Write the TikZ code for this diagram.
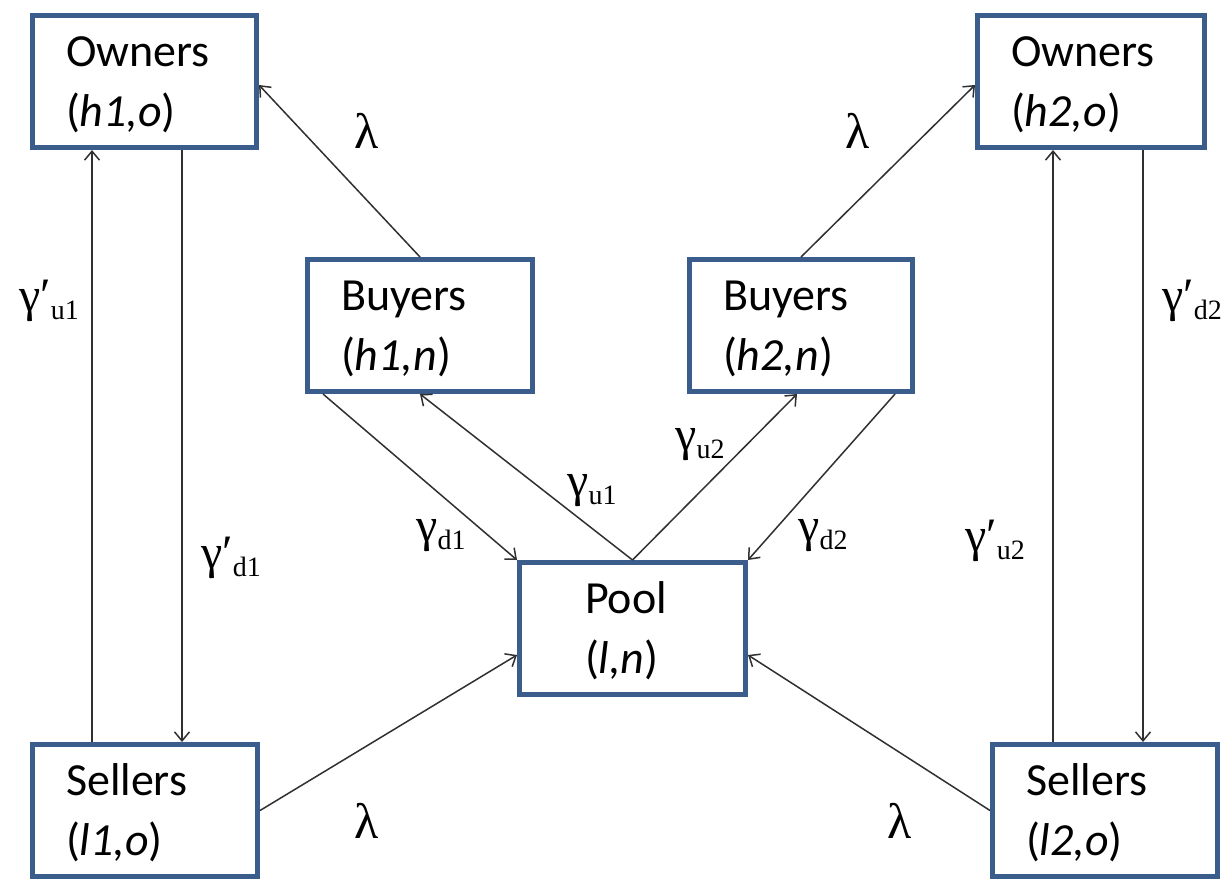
\documentclass[tikz,border=0pt]{standalone}
\usepackage{fontspec}
\setmainfont{Carlito}
\newfontfamily\greekfont{Liberation Serif}
\usetikzlibrary{arrows.meta,calc}

\definecolor{boxblue}{HTML}{3B5D8C}
\definecolor{flow}{HTML}{303030}

% rate symbol with a lowered subscript
\newcommand{\ratesym}[2]{{\greekfont\fontsize{48}{48}\selectfont #1\raisebox{-8pt}{\fontsize{28}{28}\selectfont #2}}}
\newcommand{\lam}{{\greekfont\fontsize{50}{50}\selectfont λ}}

\begin{document}
\begin{tikzpicture}[x=1pt,y=-1pt,
  statebox/.style={draw=boxblue, line width=5pt, fill=white, anchor=north west,
    inner xsep=33.5pt, inner ysep=0pt, text height=50.5pt, text depth=81.5pt,
    align=left, font=\fontsize{46}{60}\selectfont},
  flowline/.style={draw=flow, line width=1.5pt,
    -{Straight Barb[length=9pt,width=15pt,line width=1.5pt]}},
  ratelabel/.style={inner sep=0pt, text=black}]

\fill[white] (0,0) rectangle (1228,879);
\useasboundingbox (0,0) rectangle (1228,879);

% states
\node[statebox, text width=157pt] (oh1) at (30,13) {Owners\\(\textit{h1,o})};
\node[statebox, text width=160pt] (oh2) at (975,13) {Owners\\(\textit{h2,o})};
\node[statebox, text width=158pt] (bh1) at (305,257) {Buyers\\(\textit{h1,n})};
\node[statebox, text width=156pt] (bh2) at (687,257) {Buyers\\(\textit{h2,n})};
\node[statebox, inner xsep=65.5pt, text width=95pt] (pool) at (517,560) {Pool\\(\textit{l,n})};
\node[statebox, text width=158pt] (sl1) at (30,742) {Sellers\\(\textit{l1,o})};
\node[statebox, text width=158pt] (sl2) at (990,742) {Sellers\\(\textit{l2,o})};

% buyers become owners
\draw[flowline] (bh1.north) -- ([yshift=-3.5pt]oh1.east);
\draw[flowline] (bh2.north) -- ([yshift=-3.5pt]oh2.west);

% owners <-> sellers, left
\draw[flowline] ([xshift=62pt]sl1.north west) -- ([xshift=62pt]oh1.south west);
\draw[flowline] ([xshift=152pt]oh1.south west) -- ([xshift=152pt]sl1.north west);

% owners <-> sellers, right
\coordinate (ru) at ([xshift=78pt]oh2.south west);
\coordinate (rd) at ([xshift=168pt]oh2.south west);
\draw[flowline] (sl2.north -| ru) -- (ru);
\draw[flowline] (rd) -- (sl2.north -| rd);

% buyers <-> pool
\draw[flowline] ([xshift=18pt]bh1.south west) -- (pool.north west);
\draw[flowline] (pool.north) -- (bh1.south);
\draw[flowline] (pool.north) -- ([xshift=-4pt]bh2.south);
\draw[flowline] ([xshift=-20pt]bh2.south east) -- (pool.north east);

% sellers into pool
\draw[flowline] (sl1.east) -- ([yshift=-26.5pt]pool.west);
\draw[flowline] (sl2.west) -- ([yshift=-26.5pt]pool.east);

% rate labels
\node[ratelabel] (lamtl) at (367,131) {\lam};
\node[ratelabel] (lamtr) at (858,131) {\lam};
\node[ratelabel] (lambl) at (367,821) {\lam};
\node[ratelabel] (lambr) at (900,821) {\lam};

\node[ratelabel] (gpu1) at (49,301) {\ratesym{γ′}{u1}};
\node[ratelabel] (gpd1) at (231,558) {\ratesym{γ′}{d1}};
\node[ratelabel] (gpd2) at (1192,301) {\ratesym{γ′}{d2}};
\node[ratelabel] (gpu2) at (995,541) {\ratesym{γ′}{u2}};

\node[ratelabel] (gu1) at (592,491) {\ratesym{γ}{u1}};
\node[ratelabel] (gu2) at (700,445) {\ratesym{γ}{u2}};
\node[ratelabel] (gd1) at (441,536) {\ratesym{γ}{d1}};
\node[ratelabel] (gd2) at (823,536) {\ratesym{γ}{d2}};
\end{tikzpicture}
\end{document}
